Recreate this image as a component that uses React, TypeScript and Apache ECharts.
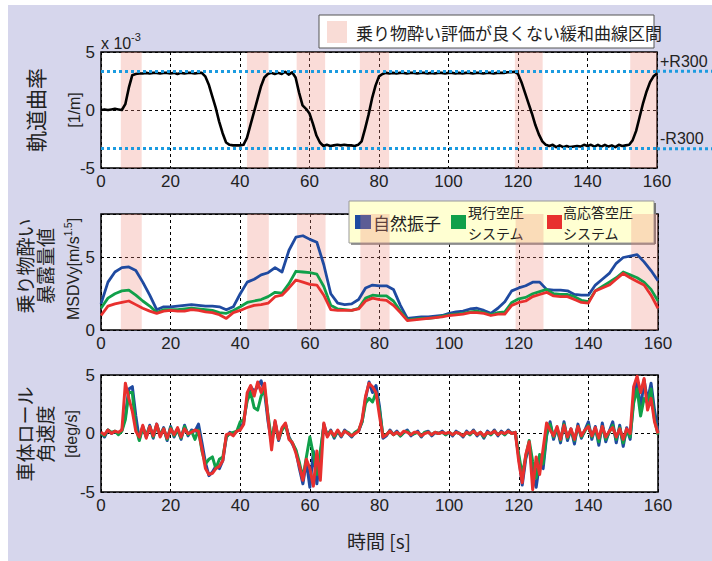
import React, { useEffect, useRef } from "react";
import * as echarts from "echarts";

// ---- data ----
// time axis (s), 1 s steps for curvature and roll rate, 2 s steps for MSDVy
const TIME_1S: number[] = Array.from({ length: 161 }, (_, i) => i);
const TIME_2S: number[] = Array.from({ length: 81 }, (_, i) => i * 2);

// track curvature (x 10^-3 1/m)
const curvature: number[] = [
  0, 0.05, 0, 0.05, 0.1, 0.05, 0, 0.5, 1.9, 3.0,
  3.1, 3.15, 3.15, 3.2, 3.15, 3.2, 3.2, 3.15, 3.2, 3.2,
  3.15, 3.2, 3.1, 3.2, 3.15, 3.2, 3.2, 3.15, 3.2, 3.2,
  2.9, 2.2, 1.2, 0.2, -1.0, -2.0, -2.8, -3.0, -3.05, -3.05,
  -3.05, -3.0, -2.4, -1.3, -0.2, 0.9, 2.0, 2.8, 3.1, 3.2,
  3.1, 3.2, 3.1, 3.3, 3.05, 3.25, 2.8, 1.5, 0.4, 0.1,
  -0.3, -1.2, -2.2, -2.8, -3.1, -3.0, -3.1, -3.05, -3.0, -3.05,
  -3.0, -3.05, -3.05, -3.1, -3.0, -2.7, -1.6, -0.4, 1.0, 2.1,
  2.9, 3.1, 3.2, 3.15, 3.2, 3.15, 3.2, 3.2, 3.15, 3.2,
  3.2, 3.15, 3.2, 3.2, 3.15, 3.2, 3.15, 3.2, 3.2, 3.15,
  3.2, 3.2, 3.15, 3.2, 3.15, 3.2, 3.2, 3.15, 3.2, 3.2,
  3.15, 3.2, 3.2, 3.15, 3.2, 3.2, 3.2, 3.25, 3.25, 3.3,
  3.1, 2.4, 1.5, 0.6, -0.3, -1.3, -2.1, -2.7, -3.0, -3.1,
  -3.0, -3.2, -3.05, -3.2, -3.1, -3.2, -3.15, -3.1, -3.15, -3.0,
  -3.1, -3.0, -3.15, -3.0, -3.15, -3.0, -3.15, -3.05, -3.2, -3.0,
  -3.1, -3.05, -3.0, -2.6, -1.8, -0.6, 0.6, 1.6, 2.4, 2.9,
  3.15,
];
const R300 = 3.333;

// MSDVy (2 s steps)
const msdvNatural: number[] = [
  1.8, 3.3, 4.0, 4.3, 4.35, 4.1, 3.3, 2.4, 1.4, 1.6,
  1.6, 1.65, 1.7, 1.75, 1.7, 1.65, 1.65, 1.6, 1.4, 1.6,
  2.5, 3.3, 3.5, 3.8, 3.95, 4.3, 4.0, 5.5, 6.4, 6.5,
  6.25, 6.05, 4.5, 2.5, 1.85, 1.75, 1.8, 2.1, 2.9, 3.1,
  3.05, 3.05, 2.8, 1.7, 0.8, 0.85, 0.9, 0.9, 0.95, 1.0,
  1.15, 1.25, 1.3, 1.45, 1.5, 1.35, 1.15, 1.5, 1.95, 2.7,
  2.9, 3.05, 3.3, 3.3, 2.8, 2.75, 2.75, 2.7, 2.45, 2.4,
  2.4, 3.1, 3.5, 3.9, 4.6, 5.0, 5.1, 5.2, 4.7, 4.1,
  3.4,
];
const msdvCurrent: number[] = [
  1.5, 2.2, 2.5, 2.7, 2.75, 2.4, 2.0, 1.65, 1.2, 1.4,
  1.4, 1.4, 1.45, 1.5, 1.45, 1.4, 1.35, 1.2, 1.15, 1.35,
  1.6, 1.9, 2.0, 2.1, 2.3, 2.6, 2.55, 3.2, 4.05, 4.0,
  3.95, 3.85, 3.0, 1.7, 1.45, 1.4, 1.35, 1.5, 2.2, 2.4,
  2.35, 2.35, 2.0, 1.3, 0.7, 0.75, 0.8, 0.8, 0.85, 0.95,
  1.05, 1.1, 1.15, 1.25, 1.3, 1.2, 1.05, 1.2, 1.25, 1.9,
  2.15, 2.25, 2.5, 2.65, 2.8, 2.5, 2.45, 2.45, 2.3, 2.05,
  1.95, 2.7, 3.0, 3.3, 3.6, 4.0, 3.8, 3.6, 3.3, 2.8,
  2.0,
];
const msdvFast: number[] = [
  1.0, 1.65, 1.8, 1.9, 2.0, 1.75, 1.5, 1.3, 1.15, 1.3,
  1.35, 1.3, 1.3, 1.4, 1.35, 1.25, 1.2, 1.05, 0.8, 1.2,
  1.35, 1.55, 1.7, 1.75, 1.85, 2.3, 2.4, 2.9, 3.45, 3.3,
  3.15, 3.1, 2.4, 1.4, 1.35, 1.35, 1.35, 1.45, 2.0, 2.2,
  2.1, 2.05, 1.7, 1.2, 0.65, 0.7, 0.75, 0.8, 0.85, 0.9,
  1.0, 1.05, 1.1, 1.2, 1.2, 1.15, 1.0, 1.1, 1.1, 1.7,
  1.9, 2.0, 2.3, 2.45, 2.6, 2.35, 2.3, 2.3, 2.1, 1.9,
  1.85, 2.7, 2.9, 3.1, 3.5, 3.9, 3.6, 3.35, 3.1, 2.4,
  1.5,
];

// body roll rate (deg/s), 1 s steps
const rollNatural: number[] = [
  0.1, -0.3, 0.3, 0, 0.2, 0, 0.3, 1.5, 3.8, 4.0,
  1.5, -0.5, 0.6, -0.3, 0.7, -0.4, 0.8, -0.2, 0.5, -0.6,
  0.6, -0.3, 0.4, -0.5, 0.7, -0.2, 0.3, 0.2, 0.8, -0.8,
  -2.5, -3.6, -3.3, -2.8, -3.0, -2.3, -0.3, 0.1, -0.1, 0.2,
  0.4, 1.0, 3.0, 4.0, 3.6, 4.0, 4.5, 3.5, 1.0, -0.8,
  1.0, -0.6, 0.4, 0.8, -0.3, -0.9, -1.5, -3.0, -4.3, -2.4,
  -4.6, -1.5, -4.3, -2.0, 0.8, -0.2, 0.3, -0.4, 0.2, -0.3,
  0.3, 0, -0.3, 0.1, 0.2, 1.0, 3.0, 4.4, 3.5, 4.1,
  2.3, -0.4, -0.2, 0.3, -0.1, 0.2, -0.2, 0.1, 0.3, -0.2,
  0, 0.2, -0.3, 0.1, 0.2, -0.2, 0.1, 0, 0.2, -0.1,
  0.1, -0.2, 0.2, 0, -0.3, 0.2, -0.1, 0.3, -0.2, 0.1,
  -0.4, 0.2, -0.1, 0.3, -0.2, 0.2, -0.1, 0.3, 0, 0.1,
  -2.0, -4.4, -2.2, -1.0, -3.5, -4.6, -2.5, -3.0, -0.2, 1.0,
  -0.5, 0.5, -0.8, 1.0, -0.6, 0.4, -0.9, 0.8, -0.4, 0.3,
  1.0, -0.5, 0.6, -1.0, 0.9, -0.7, 0.2, 1.0, -0.8, 0.7,
  -1.1, 0.5, -0.5, 3.0, 4.5, 2.0, 4.6, 2.8, 4.3, 2.0,
  0.1,
];
const rollCurrent: number[] = [
  0, -0.2, 0.3, 0.1, 0.2, -0.1, 0.2, 1.2, 3.5, 3.5,
  0.5, -0.6, 0.5, -0.2, 0.6, -0.3, 0.7, -0.1, 0.4, -0.5,
  0.5, -0.2, 0.3, -0.4, 0.6, -0.1, 0.2, -0.5, 0.3, -1.5,
  -2.6, -2.2, -2.0, -3.0, -2.2, -2.0, -0.3, 0, 0.1, 0.2,
  1.0, 1.2, 2.8, 3.5, 2.2, 2.0, 3.2, 3.8, 1.5, -0.6,
  0.9, -0.5, 0.3, 0.7, -0.4, -0.8, -1.4, -2.5, -3.8, -2.0,
  -0.3, -1.8, -3.5, -1.5, 0.6, -0.1, 0.2, -0.3, 0.2, -0.2,
  0.2, 0.1, -0.2, 0.1, 0.3, 1.0, 2.6, 3.0, 2.7, 3.5,
  2.0, -0.2, -0.1, 0.2, -0.1, 0.1, -0.2, 0.1, 0.2, -0.1,
  0, 0.1, -0.2, 0.1, 0.1, -0.1, 0.1, 0, 0.1, -0.1,
  0.1, -0.1, 0.1, 0, -0.2, 0.1, -0.1, 0.2, -0.1, 0.1,
  -0.3, 0.1, -0.1, 0.2, -0.1, 0.1, -0.1, 0.2, 0, 0.1,
  -1.8, -3.5, -2.0, -0.6, -2.4, -3.8, -1.8, -2.6, 0, 0.8,
  -0.3, 0.4, -0.6, 0.8, -0.4, 0.3, -0.6, 0.6, -0.3, 0.2,
  0.7, -0.3, 0.4, -0.7, 0.6, -0.5, 0.1, 0.7, -0.5, 0.5,
  -0.8, 0.3, -0.3, 2.6, 3.8, 1.5, 3.0, 2.6, 3.8, 1.2,
  -0.1,
];
const rollFast: number[] = [
  0.1, -0.1, 0.3, 0, 0.2, 0.1, 0.3, 4.3, 3.0, 1.9,
  0.2, -0.3, 0.7, -0.4, 0.6, -0.2, 0.8, -0.3, 0.4, -0.4,
  0.4, -0.1, 0.5, -0.3, 0.4, 0, 0.1, 0.3, 0.2, -1.3,
  -3.0, -3.5, -3.4, -3.0, -2.8, -2.3, -0.1, 0, -0.2, 0.2,
  0.3, 0.8, 3.5, 4.1, 3.2, 4.4, 3.5, 4.3, 1.3, -1.4,
  1.1, -0.5, 0.5, 0.9, -0.5, -0.8, -1.7, -2.8, -4.0, -2.2,
  -3.0, -4.5, -1.5, -4.0, 0.9, -0.3, 0.2, -0.2, 0.3, -0.2,
  0.2, 0, -0.2, 0, 0.2, 1.2, 3.2, 4.3, 4.0, 3.5,
  1.5, -0.3, -0.1, 0.2, -0.1, 0.1, -0.1, 0.2, 0.1, -0.1,
  0.1, 0.1, -0.2, 0, 0.1, -0.1, 0.1, 0, 0.1, 0,
  0.1, -0.1, 0.1, 0, -0.2, 0.1, 0, 0.2, -0.1, 0.1,
  -0.2, 0.1, 0, 0.2, -0.1, 0.1, 0, 0.2, 0, 0.1,
  -2.4, -4.2, -1.8, -0.7, -4.8, -2.0, -3.5, -1.3, 0.9, 0.3,
  -0.2, 0.6, -0.5, 0.7, -0.3, 0.4, -0.5, 0.6, -0.2, 0.3,
  0.6, -0.2, 0.5, -0.4, 0.6, -0.3, 0.2, 0.5, -0.3, 0.4,
  -0.5, 0.4, 0, 4.0, 4.9, 3.5, 4.7, 2.0, 3.0, 1.0,
  0,
];

// transition curve sections with poor motion-sickness rating (s)
const bandStart: number[] = [5.7, 42.0, 56.3, 74.5, 119.1, 152.3];
const bandEnd: number[] = [11.7, 48.2, 64.5, 82.9, 127.1, 160];

const X_TICKS = [0, 20, 40, 60, 80, 100, 120, 140, 160];

const BLUE = "#1f4aa0";
const GREEN = "#10a04a";
const RED = "#e8302e";
const CYAN = "#1b9be0";
const LAVENDER = "#d6d6ec";
const BAND = "rgba(238,140,125,0.30)";

const NUM_FONT = '"Liberation Sans", Arial, "Noto Sans CJK JP", sans-serif';
const JP_FONT = '"Noto Sans CJK JP", "Liberation Sans", sans-serif';

const pair = (t: number[], v: number[]) => t.map((x, i) => [x, v[i]]);

export default function App() {
  const ref = useRef<HTMLDivElement>(null);
  useEffect(() => {
    if (!ref.current) return;
    const chart = echarts.init(ref.current, undefined, { renderer: "svg" });

    const bandData = bandStart.map((s, i) => [{ xAxis: s }, { xAxis: bandEnd[i] }]);
    const markArea = { silent: true, itemStyle: { color: BAND }, data: bandData };

    const gridBase = {
      show: true,
      backgroundColor: "#fff",
      borderColor: "#000",
      borderWidth: 1.5,
    };
    const splitDash = { show: true, lineStyle: { color: "#000", type: [3, 3] as any, width: 1 } };
    const xAxisFor = (gi: number) => ({
      type: "value",
      gridIndex: gi,
      min: X_TICKS[0],
      max: X_TICKS[X_TICKS.length - 1],
      interval: 20,
      axisLine: { show: false },
      axisTick: { show: false },
      splitLine: splitDash,
      axisLabel: { fontSize: 17, color: "#222", fontFamily: NUM_FONT, margin: 5 },
    });
    const yAxisFor = (gi: number, min: number, max: number, extra: any = {}) => ({
      type: "value",
      gridIndex: gi,
      min,
      max,
      interval: 5,
      axisLine: { show: false },
      axisTick: { show: false },
      splitLine: splitDash,
      axisLabel: { fontSize: 17, color: "#222", fontFamily: NUM_FONT, margin: 6, ...extra },
    });

    const line = (name: string, xi: number, data: any, color: string, width: number, extra: any = {}) => ({
      type: "line",
      name,
      xAxisIndex: xi,
      yAxisIndex: xi,
      data,
      showSymbol: false,
      symbol: "none",
      lineStyle: { color, width, join: "round" },
      itemStyle: { color },
      ...extra,
    });

    chart.setOption({
      animation: false,
      backgroundColor: LAVENDER,
      grid: [
        { ...gridBase, left: 101, top: 52, width: 556, height: 116 },
        { ...gridBase, left: 101, top: 214, width: 557, height: 116 },
        { ...gridBase, left: 101, top: 375, width: 557, height: 117 },
      ],
      xAxis: [xAxisFor(0), xAxisFor(1), xAxisFor(2)],
      yAxis: [
        yAxisFor(0, -5, 5),
        yAxisFor(1, 0, 8, { showMaxLabel: false }),
        yAxisFor(2, -5, 5),
      ],
      series: [
        line("軌道曲率", 0, pair(TIME_1S, curvature), "#000", 2.6, {
          markArea,
          markLine: {
            silent: true,
            symbol: ["none", "none"],
            label: { show: false },
            lineStyle: { color: CYAN, width: 3, type: [3, 3] },
            data: [{ yAxis: R300 }, { yAxis: -R300 }],
          },
        }),
        line("自然振子", 1, pair(TIME_2S, msdvNatural), BLUE, 2.8, { markArea }),
        line("現行空圧システム", 1, pair(TIME_2S, msdvCurrent), GREEN, 2.8),
        line("高応答空圧システム", 1, pair(TIME_2S, msdvFast), RED, 2.8),
        line("自然振子", 2, pair(TIME_1S, rollNatural), BLUE, 3),
        line("現行空圧システム", 2, pair(TIME_1S, rollCurrent), GREEN, 3),
        line("高応答空圧システム", 2, pair(TIME_1S, rollFast), RED, 3),
      ],
    });

    const pPlus = chart.convertToPixel({ gridIndex: 0 } as any, [160, R300]) as number[];
    const pMinus = chart.convertToPixel({ gridIndex: 0 } as any, [160, -R300]) as number[];

    const vText = (x: number, y: number, text: string, fontSize: number, extra: any = {}) => ({
      type: "text",
      x,
      y,
      rotation: Math.PI / 2,
      style: {
        text,
        fontSize,
        fontFamily: JP_FONT,
        fill: "#222",
        align: "center",
        verticalAlign: "middle",
        lineHeight: fontSize + 3,
        ...extra,
      },
    });
    const hText = (x: number, y: number, text: string, fontSize: number, extra: any = {}) => ({
      type: "text",
      x,
      y,
      style: {
        text,
        fontSize,
        fontFamily: JP_FONT,
        fill: "#222",
        verticalAlign: "middle",
        ...extra,
      },
    });

    chart.setOption({
      graphic: [
        { type: "rect", shape: { x: 0, y: 0, width: 712, height: 5 }, style: { fill: "#fff" }, silent: true },
        { type: "rect", shape: { x: 0, y: 0, width: 8, height: 561 }, style: { fill: "#fff" }, silent: true },
        // R300 extension outside plot
        {
          type: "line",
          shape: { x1: pPlus[0], y1: pPlus[1], x2: 712, y2: pPlus[1] },
          style: { stroke: CYAN, lineWidth: 3, lineDash: [3, 3] },
          silent: true,
        },
        {
          type: "line",
          shape: { x1: pMinus[0], y1: pMinus[1], x2: 712, y2: pMinus[1] },
          style: { stroke: CYAN, lineWidth: 3, lineDash: [3, 3] },
          silent: true,
        },
        hText(660, pPlus[1] - 10, "+R300", 16, { fontFamily: NUM_FONT }),
        hText(660, pMinus[1] - 10, "-R300", 16, { fontFamily: NUM_FONT }),
        // x 10^-3
        hText(101, 43, "x 10", 16, { fontFamily: NUM_FONT }),
        hText(131, 37, "-3", 11, { fontFamily: NUM_FONT }),
        // top legend
        {
          type: "rect",
          shape: { x: 319, y: 15, width: 335, height: 33 },
          style: { fill: "#fff", stroke: "#555", lineWidth: 1 },
        },
        { type: "rect", shape: { x: 327, y: 21, width: 20, height: 22 }, style: { fill: "#f9dcd6" } },
        hText(356, 32, "乗り物酔い評価が良くない緩和曲線区間", 17),
        // middle legend
        {
          type: "rect",
          shape: { x: 349, y: 201, width: 305, height: 42 },
          style: { fill: "#ffffd2", stroke: "#999", lineWidth: 1 },
        },
        { type: "line", shape: { x1: 655, y1: 203, x2: 655, y2: 244 }, style: { stroke: "#777", lineWidth: 2 } },
        { type: "line", shape: { x1: 351, y1: 244, x2: 655, y2: 244 }, style: { stroke: "#777", lineWidth: 1.5 } },
        { type: "rect", shape: { x: 355, y: 215, width: 16, height: 14 }, style: { fill: BLUE } },
        hText(373, 222, "自然振子", 17),
        { type: "rect", shape: { x: 451, y: 215, width: 15, height: 14 }, style: { fill: GREEN } },
        hText(468, 212, "現行空圧", 14),
        hText(468, 233, "システム", 14),
        { type: "rect", shape: { x: 547, y: 215, width: 15, height: 14 }, style: { fill: RED } },
        hText(563, 212, "高応答空圧", 14),
        hText(563, 233, "システム", 14),
        // y titles
        vText(35, 110, "軌道曲率", 21),
        vText(74, 110, "[1/m]", 16, { fontFamily: NUM_FONT }),
        vText(34, 266, "乗り物酔い\n暴露量値", 19, { lineHeight: 20 }),
        vText(73, 269, "MSDVy[m/s{sup|1.5}]", 16, {
          fontFamily: NUM_FONT,
          rich: { sup: { fontSize: 10, fontFamily: NUM_FONT, fill: "#222", verticalAlign: "top", lineHeight: 16 } },
        }),
        vText(34, 434, "車体ロール\n角速度", 19, { lineHeight: 20 }),
        vText(71, 434, "[deg/s]", 16, { fontFamily: NUM_FONT }),
        // x title
        hText(347, 540, "時間 [s]", 19),
      ],
    });

    return () => chart.dispose();
  }, []);
  return (
    <div
      ref={ref}
      style={{ position: "absolute", left: 0, top: 0, width: 712, height: 561 }}
    />
  );
}
